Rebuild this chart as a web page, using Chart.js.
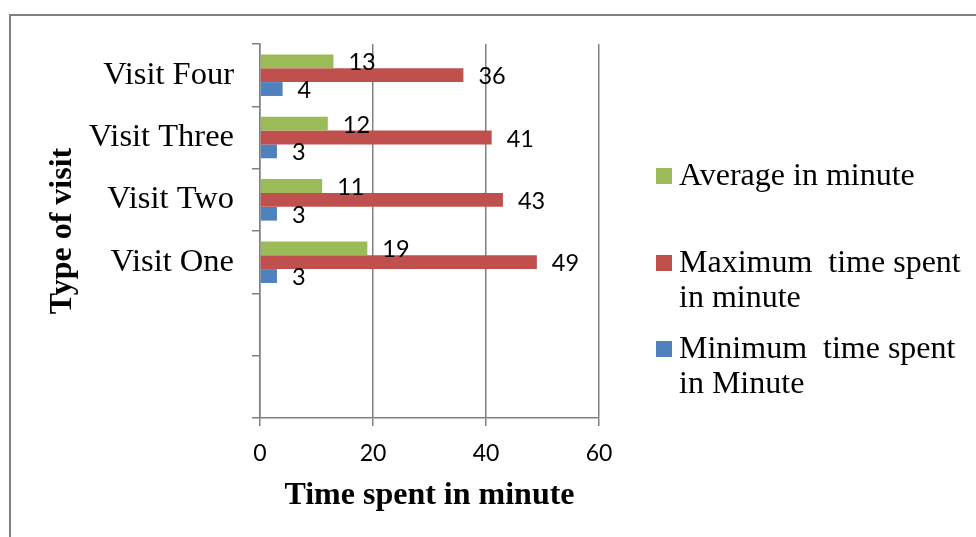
<!DOCTYPE html>
<html>
<head>
<meta charset="utf-8">
<title>Time spent per visit</title>
<script src="https://cdn.jsdelivr.net/npm/chart.js@4.4.1/dist/chart.umd.min.js"></script>
<style>
    html, body { margin: 0; padding: 0; background: #fff; overflow: hidden; }
    #frame {
        position: absolute; left: 9px; top: 14px; width: 1000px; height: 600px;
        border-left: 2px solid #808080; border-top: 2px solid #808080;
    }
    #wrap { position: absolute; left: 0; top: 0; width: 976px; height: 537px; }
    #legend { position: absolute; left: 0; top: 0; }
    .item-box { position: absolute; width: 16px; height: 16px; }
    .item-text {
        position: absolute; width: 290px; white-space: pre-wrap;
        font: 32px/35px "Liberation Serif", "Times New Roman", serif; color: #000;
    }
</style>
</head>
<body>
<div id="frame"></div>
<div id="wrap"><canvas id="visitChart"></canvas></div>
<div id="legend"></div>
<script>
// chart data
const categories = ['Visit Four', 'Visit Three', 'Visit Two', 'Visit One', '', ''];
const averageMinutes = [13, 12, 11, 19, null, null];
const maximumMinutes = [36, 41, 43, 49, null, null];
const minimumMinutes = [4, 3, 3, 3, null, null];
const xTickValues = [0, 20, 40, 60];
const seriesNames = ['Average in minute', 'Maximum  time spent in minute', 'Minimum  time spent in Minute'];
const seriesColors = ['#9BBB59', '#C0504D', '#4F81BD'];

const gridGray = '#808080';

/**
 * Draw the value next to the end of each bar
 */
const valueLabels = {
    id: 'valueLabels',
    afterDatasetsDraw(chart) {
        const ctx = chart.ctx;
        ctx.save();
        ctx.font = '23.5px Lato';
        ctx.fillStyle = '#000';
        ctx.textAlign = 'left';
        ctx.textBaseline = 'alphabetic';
        chart.data.datasets.forEach((ds, i) => {
            chart.getDatasetMeta(i).data.forEach((bar, j) => {
                const v = ds.data[j];
                if (v == null) return;
                ctx.fillText(String(v), bar.x + 15, bar.y + 9);
            });
        });
        ctx.restore();
    }
};

const ctx = document.getElementById('visitChart').getContext('2d');

const chart = new Chart(ctx, {
    type: 'bar',
    data: {
        labels: categories,
        datasets: [
            { label: seriesNames[0], data: averageMinutes, backgroundColor: seriesColors[0] },
            { label: seriesNames[1], data: maximumMinutes, backgroundColor: seriesColors[1] },
            { label: seriesNames[2], data: minimumMinutes, backgroundColor: seriesColors[2] }
        ]
    },
    options: {
        indexAxis: 'y',
        responsive: true,
        maintainAspectRatio: false,
        animation: false,
        barPercentage: 1,
        categoryPercentage: 0.667,
        layout: {
            padding: { left: 44, top: 44, right: 377, bottom: 22 }
        },
        plugins: {
            legend: { display: false },
            tooltip: { enabled: false }
        },
        scales: {
            x: {
                min: 0,
                max: 60,
                afterBuildTicks: s => { s.ticks = xTickValues.map(v => ({ value: v })); },
                afterFit: s => { s.height = 97; s.paddingLeft = 0; s.paddingRight = 0; },
                ticks: {
                    color: '#000',
                    padding: 14,
                    font: { family: 'Lato', size: 23 }
                },
                grid: { color: gridGray, lineWidth: 1.5, tickLength: 8 },
                border: { color: gridGray, width: 1.5 },
                title: {
                    display: true,
                    text: 'Time spent in minute',
                    color: '#000',
                    padding: 0,
                    font: { family: 'Liberation Serif', size: 32, weight: 'bold' }
                }
            },
            y: {
                offset: true,
                afterFit: s => { s.width = 216; s.paddingTop = 0; s.paddingBottom = 0; },
                ticks: {
                    color: '#000',
                    padding: 18,
                    font: { family: 'Liberation Serif', size: 32.5 }
                },
                grid: {
                    offset: true,
                    drawOnChartArea: false,
                    color: gridGray,
                    lineWidth: 1.5,
                    tickLength: 8
                },
                border: { color: gridGray, width: 1.5 },
                title: {
                    display: true,
                    text: 'Type of visit',
                    color: '#000',
                    padding: 0,
                    align: 'center',
                    font: { family: 'Liberation Serif', size: 32, weight: 'bold' }
                }
            }
        }
    },
    plugins: [valueLabels]
});

// legend on the right, built from the series names (text wraps like the original)
const legendEl = document.getElementById('legend');
const legendTops = [157, 244, 330];
seriesNames.forEach((name, i) => {
    const box = document.createElement('div');
    box.className = 'item-box';
    box.style.left = '656px';
    box.style.top = (legendTops[i] + 11) + 'px';
    box.style.background = seriesColors[i];
    legendEl.appendChild(box);

    const text = document.createElement('div');
    text.className = 'item-text';
    text.style.left = '679px';
    text.style.top = legendTops[i] + 'px';
    text.textContent = name;
    legendEl.appendChild(text);
});
</script>
</body>
</html>
